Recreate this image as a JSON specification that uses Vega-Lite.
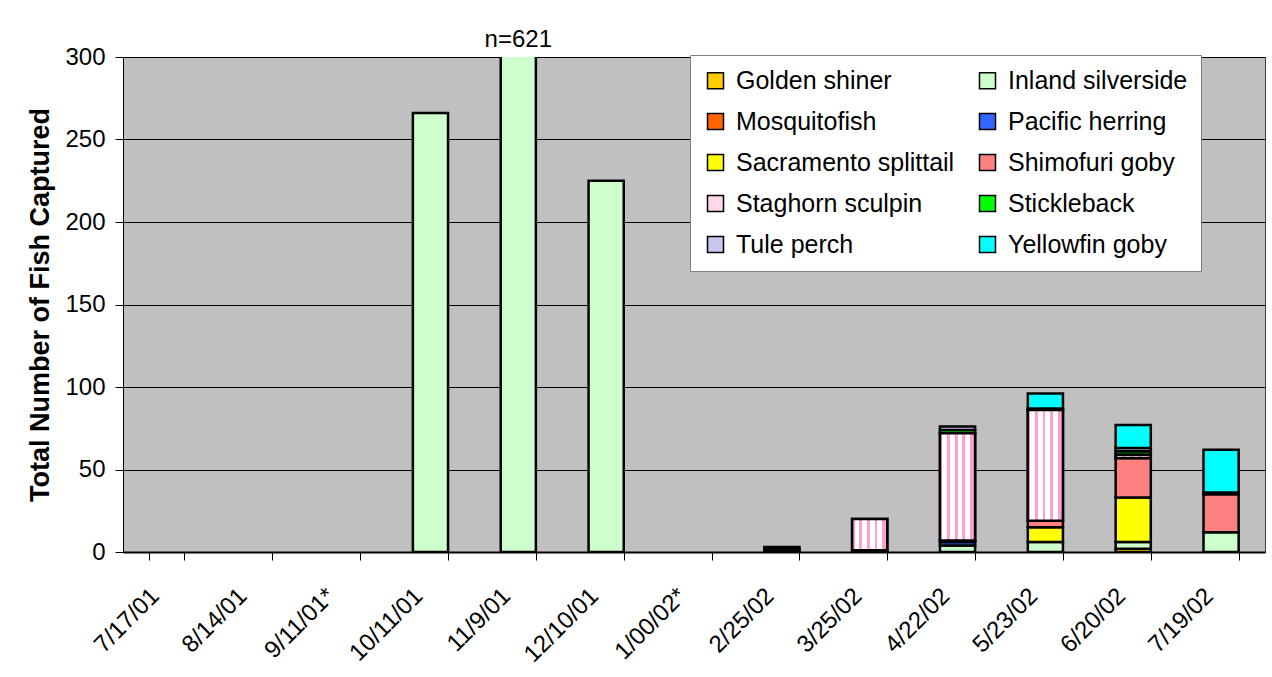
{
  "$schema": "https://vega.github.io/schema/vega-lite/v6.json",
  "width": 1142,
  "height": 495,
  "autosize": {"type": "none"},
  "padding": {"left": 123, "top": 57, "right": 7, "bottom": 125},
  "background": "white",
  "config": {
    "font": "Liberation Sans",
    "view": {"fill": "#C0C0C0", "stroke": "#404040", "strokeWidth": 1}
  },
  "data": {
    "values": [
      {"date": "10/11/01", "species": "Inland silverside", "n": 266},
      {"date": "11/9/01", "species": "Inland silverside", "n": 621},
      {"date": "12/10/01", "species": "Inland silverside", "n": 225},
      {"date": "2/25/02", "species": "Inland silverside", "n": 1},
      {"date": "2/25/02", "species": "Stickleback", "n": 1},
      {"date": "2/25/02", "species": "Tule perch", "n": 1},
      {"date": "3/25/02", "species": "Shimofuri goby", "n": 1},
      {"date": "3/25/02", "species": "Staghorn sculpin", "n": 19},
      {"date": "4/22/02", "species": "Inland silverside", "n": 4},
      {"date": "4/22/02", "species": "Pacific herring", "n": 2},
      {"date": "4/22/02", "species": "Shimofuri goby", "n": 1},
      {"date": "4/22/02", "species": "Staghorn sculpin", "n": 65},
      {"date": "4/22/02", "species": "Stickleback", "n": 2},
      {"date": "4/22/02", "species": "Tule perch", "n": 2},
      {"date": "5/23/02", "species": "Inland silverside", "n": 6},
      {"date": "5/23/02", "species": "Sacramento splittail", "n": 9},
      {"date": "5/23/02", "species": "Shimofuri goby", "n": 4},
      {"date": "5/23/02", "species": "Staghorn sculpin", "n": 67},
      {"date": "5/23/02", "species": "Stickleback", "n": 1},
      {"date": "5/23/02", "species": "Yellowfin goby", "n": 9},
      {"date": "6/20/02", "species": "Golden shiner", "n": 2},
      {"date": "6/20/02", "species": "Inland silverside", "n": 4},
      {"date": "6/20/02", "species": "Sacramento splittail", "n": 27},
      {"date": "6/20/02", "species": "Shimofuri goby", "n": 24},
      {"date": "6/20/02", "species": "Staghorn sculpin", "n": 2},
      {"date": "6/20/02", "species": "Stickleback", "n": 2},
      {"date": "6/20/02", "species": "Tule perch", "n": 2},
      {"date": "6/20/02", "species": "Yellowfin goby", "n": 14},
      {"date": "7/19/02", "species": "Inland silverside", "n": 12},
      {"date": "7/19/02", "species": "Shimofuri goby", "n": 23},
      {"date": "7/19/02", "species": "Stickleback", "n": 1},
      {"date": "7/19/02", "species": "Yellowfin goby", "n": 26}
    ]
  },
  "transform": [
    {"stack": "n", "groupby": ["date"], "sort": [{"field": "species", "order": "ascending"}], "as": ["y0", "y1"]}
  ],
  "layer": [
    {
      "mark": {"type": "bar", "clip": true, "stroke": "black", "strokeWidth": 2.5},
      "encoding": {
        "x": {
          "field": "date",
          "type": "nominal",
          "sort": null,
          "scale": {
            "domain": ["7/17/01", "8/14/01", "9/11/01*", "10/11/01", "11/9/01", "12/10/01", "1/00/02*", "2/25/02", "3/25/02", "4/22/02", "5/23/02", "6/20/02", "7/19/02"],
            "paddingInner": 0.6,
            "paddingOuter": 0.3
          },
          "axis": {
            "title": null,
            "labelAngle": -45,
            "labelAlign": "right",
            "labelBaseline": "middle",
            "labelFontSize": 24,
            "labelColor": "black",
            "labelPadding": 32,
            "labelOffset": -12,
            "tickBand": "extent",
            "tickSize": 8,
            "tickColor": "black",
            "domainColor": "black",
            "domainWidth": 2
          }
        },
        "y": {
          "field": "y0",
          "type": "quantitative",
          "scale": {"domain": [0, 300], "nice": false},
          "axis": {
            "title": "Total Number of Fish Captured",
            "titleFontSize": 27,
            "titleFontWeight": "bold",
            "titleColor": "black",
            "titlePadding": 10,
            "values": [0, 50, 100, 150, 200, 250, 300],
            "labelFontSize": 24,
            "labelColor": "black",
            "labelPadding": 10,
            "tickSize": 8,
            "tickColor": "black",
            "domainColor": "black",
            "gridColor": "black",
            "gridWidth": 1,
            "gridOpacity": 1
          }
        },
        "y2": {"field": "y1"},
        "color": {
          "field": "species",
          "type": "nominal",
          "scale": {
            "domain": ["Golden shiner", "Inland silverside", "Mosquitofish", "Pacific herring", "Sacramento splittail", "Shimofuri goby", "Staghorn sculpin", "Stickleback", "Tule perch", "Yellowfin goby"],
            "range": ["#FFCC00", "#CCFFCC", "#FF6600", "#3366FF", "#FFFF00", "#FF8080", "#FFD6EB", "#00FF00", "#C8C8F0", "#00FFFF"]
          },
          "legend": {
            "title": null,
            "orient": "none",
            "direction": "horizontal",
            "legendX": 567,
            "legendY": -2,
            "columns": 2,
            "fillColor": "white",
            "strokeColor": "#808080",
            "padding": 13,
            "rowPadding": 15,
            "columnPadding": 20,
            "symbolType": "square",
            "symbolSize": 256,
            "symbolStrokeColor": "black",
            "symbolStrokeWidth": 1.5,
            "symbolOpacity": 1,
            "labelFontSize": 25,
            "labelColor": "black",
            "labelOffset": 8,
            "labelLimit": 400
          }
        }
      }
    },
    {
      "transform": [{"filter": "datum.species === 'Staghorn sculpin'"}],
      "mark": {
        "type": "bar",
        "clip": true,
        "stroke": "black",
        "strokeWidth": 2.5,
        "fill": {
          "gradient": "linear",
          "x1": 0, "x2": 1, "y1": 0, "y2": 0,
          "stops": [
            {"offset": 0.0, "color": "#FF9FCF"},
            {"offset": 0.07, "color": "#FF9FCF"},
            {"offset": 0.07, "color": "#FFFFFF"},
            {"offset": 0.2, "color": "#FFFFFF"},
            {"offset": 0.2, "color": "#FF9FCF"},
            {"offset": 0.28, "color": "#FF9FCF"},
            {"offset": 0.28, "color": "#FFFFFF"},
            {"offset": 0.42, "color": "#FFFFFF"},
            {"offset": 0.42, "color": "#FF9FCF"},
            {"offset": 0.5, "color": "#FF9FCF"},
            {"offset": 0.5, "color": "#FFFFFF"},
            {"offset": 0.64, "color": "#FFFFFF"},
            {"offset": 0.64, "color": "#FF9FCF"},
            {"offset": 0.72, "color": "#FF9FCF"},
            {"offset": 0.72, "color": "#FFFFFF"},
            {"offset": 0.86, "color": "#FFFFFF"},
            {"offset": 0.86, "color": "#FF9FCF"},
            {"offset": 1.0, "color": "#FF9FCF"}
          ]
        }
      },
      "encoding": {
        "x": {"field": "date", "type": "nominal"},
        "y": {"field": "y0", "type": "quantitative"},
        "y2": {"field": "y1"}
      }
    },
    {
      "data": {"values": [{"date": "11/9/01", "label": "n=621"}]},
      "mark": {"type": "text", "fontSize": 24, "color": "black", "baseline": "alphabetic", "dy": -10, "clip": false},
      "encoding": {
        "x": {"field": "date", "type": "nominal"},
        "y": {"datum": 300},
        "text": {"field": "label"}
      }
    }
  ]
}
